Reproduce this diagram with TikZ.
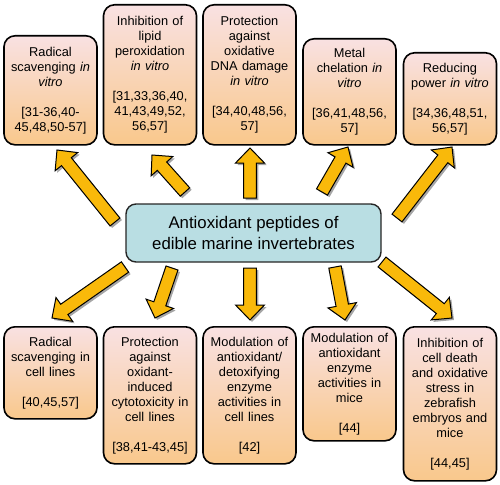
\documentclass[tikz,border=0pt]{standalone}
\usepackage{fontspec}
\setmainfont{Liberation Sans}
\usetikzlibrary{calc,shadows}
\definecolor{boxtop}{HTML}{F9E1E2}
\definecolor{boxbot}{HTML}{F9C88C}
\definecolor{hubfill}{HTML}{B9DEE3}
\definecolor{arrowfill}{HTML}{F9B90A}
\tikzset{
  infobox/.style={draw=black, line width=1.6pt, rounded corners=11pt,
    top color=boxtop, bottom color=boxbot, anchor=north,
    text width=88pt, inner sep=2.5pt, align=center,
    font=\fontsize{12.8}{15}\selectfont},
  hubbox/.style={draw=black!85, line width=1.4pt, rounded corners=10pt,
    fill=hubfill, minimum width=255pt, minimum height=58pt, align=center,
    font=\fontsize{16.8}{21.5}\selectfont},
  blockarrow/.style={draw=black, line width=1pt, line join=miter, fill=arrowfill,
    drop shadow={shadow xshift=2pt, shadow yshift=-2pt, opacity=0.35, fill=black}}
}
\newcommand\blockarrow[2]{%
  \path ($(#2)!15pt!(#1)$) coordinate (neck);
  \path[blockarrow] ($(#1)!6.3pt!90:(#2)$) -- ($(neck)!6.3pt!90:(#2)$) --
    ($(neck)!14.5pt!90:(#2)$) -- (#2) -- ($(neck)!14.5pt!-90:(#2)$) --
    ($(neck)!6.3pt!-90:(#2)$) -- ($(#1)!6.3pt!-90:(#2)$) -- cycle;
}
\begin{document}
\begin{tikzpicture}[x=1pt,y=-1pt]
\useasboundingbox (0,0) rectangle (500,484);
% hub
\node[hubbox] (hub) at (253.5,233) {Antioxidant peptides of\\edible marine invertebrates};
% top boxes
\node[infobox, minimum height=109pt] (t1) at (50.5,35) {Radical\\scavenging \textit{in}\\\textit{vitro}\\[15pt][31-36,40-\\45,48,50-57]};
\node[infobox, minimum height=140pt] (t2) at (150,4) {Inhibition of\\lipid\\peroxidation\\\textit{in vitro}\\[15pt][31,33,36,40,\\41,43,49,52,\\56,57]};
\node[infobox, minimum height=140pt] (t3) at (249.5,4) {Protection\\against\\oxidative\\DNA damage\\\textit{in vitro}\\[15pt][34,40,48,56,\\57]};
\node[infobox, minimum height=106pt] (t4) at (349.5,38) {Metal\\chelation \textit{in}\\\textit{vitro}\\[15pt][36,41,48,56,\\57]};
\node[infobox, minimum height=92pt] (t5) at (450,52) {Reducing\\power \textit{in vitro}\\[15pt][34,36,48,51,\\56,57]};
% bottom boxes
\node[infobox, minimum height=92pt] (b1) at (50.5,326) {Radical\\scavenging in\\cell lines\\[15pt][40,45,57]};
\node[infobox, minimum height=137pt] (b2) at (150,326) {Protection\\against\\oxidant-\\induced\\cytotoxicity in\\cell lines\\[15pt][38,41-43,45]};
\node[infobox, minimum height=137pt] (b3) at (249.5,326) {Modulation of\\antioxidant/\\detoxifying\\enzyme\\activities in\\cell lines\\[15pt][42]};
\node[infobox, minimum height=114pt] (b4) at (349.5,326) {Modulation of\\antioxidant\\enzyme\\activities in\\mice\\[15pt][44]};
\node[infobox, minimum height=154pt] (b5) at (450,326) {Inhibition of\\cell death\\and oxidative\\stress in\\zebrafish\\embryos and\\mice\\[15pt][44,45]};
% arrow end points
\coordinate (ta1) at (115,222); \coordinate (tt1) at (57,150);
\coordinate (ta2) at (185,192); \coordinate (tt2) at (152,155);
\coordinate (ta3) at (250,198); \coordinate (tt3) at (250,148);
\coordinate (ta4) at (322,192); \coordinate (tt4) at (348,147);
\coordinate (ta5) at (397,218); \coordinate (tt5) at (452,147);
\coordinate (ba1) at (125,267); \coordinate (bt1) at (52,318);
\coordinate (ba2) at (172,268); \coordinate (bt2) at (155,318);
\coordinate (ba3) at (250,268); \coordinate (bt3) at (250,320);
\coordinate (ba4) at (335,267); \coordinate (bt4) at (345,320);
\coordinate (ba5) at (382,262); \coordinate (bt5) at (452,318);
\blockarrow{ta1}{tt1}
\blockarrow{ta2}{tt2}
\blockarrow{ta3}{tt3}
\blockarrow{ta4}{tt4}
\blockarrow{ta5}{tt5}
\blockarrow{ba1}{bt1}
\blockarrow{ba2}{bt2}
\blockarrow{ba3}{bt3}
\blockarrow{ba4}{bt4}
\blockarrow{ba5}{bt5}
\end{tikzpicture}
\end{document}
